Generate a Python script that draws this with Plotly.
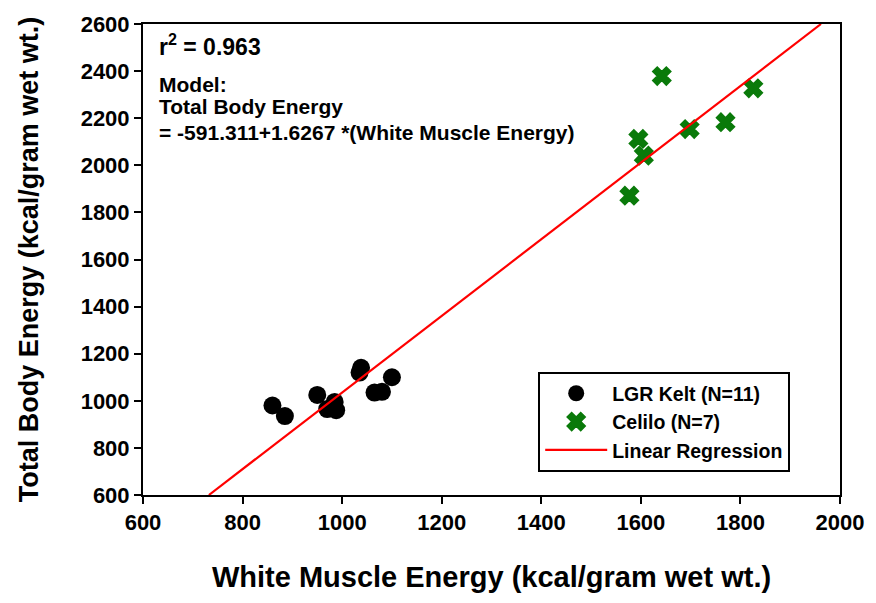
import plotly.graph_objects as go

# Data
kelt_x = [860, 885, 950, 970, 985, 988, 1035, 1038, 1065, 1080, 1100]
kelt_y = [980, 935, 1025, 965, 995, 960, 1120, 1140, 1035, 1038, 1100]
celilo_x = [1642, 1826, 1698, 1770, 1595, 1606, 1577]
celilo_y = [2379, 2327, 2154, 2183, 2112, 2041, 1871]
intercept = -591.311
slope = 1.6267
y_range = [600, 2600]
x_range = [600, 2000]
x_ticks = list(range(600, 2001, 200))
y_ticks = list(range(600, 2601, 200))

reg_x = [(y_range[0] - intercept) / slope, (y_range[1] - intercept) / slope]
reg_y = [intercept + slope * v for v in reg_x]

FONT = "Liberation Sans, Arial, sans-serif"

def bf(size):
    return dict(size=size, family=FONT, color="black", weight="bold")

fig = go.Figure()
fig.add_trace(go.Scatter(
    x=kelt_x, y=kelt_y, mode="markers", name="LGR Kelt (N=11)", legendrank=1,
    marker=dict(symbol="circle", size=18, color="black", line=dict(width=0))))
fig.add_trace(go.Scatter(
    x=celilo_x, y=celilo_y, mode="markers", name="Celilo (N=7)", legendrank=2,
    marker=dict(symbol="x", size=16, color="#0a7a0a", line=dict(width=1.5, color="#0a7a0a"))))
fig.add_trace(go.Scatter(
    x=reg_x, y=reg_y, mode="lines", name="Linear Regression", legendrank=3,
    line=dict(color="#ff0000", width=2.2)))

fig.update_layout(
    width=876, height=603,
    margin=dict(l=143, r=36, t=24, b=108),
    plot_bgcolor="white", paper_bgcolor="white",
    font=dict(family=FONT, color="black"),
    legend=dict(
        x=0.567, y=0.261, xanchor="left", yanchor="top",
        bgcolor="white", bordercolor="black", borderwidth=2,
        font=bf(19.5), itemwidth=62, tracegroupgap=0,
    ),
    xaxis=dict(
        range=x_range, tickvals=x_ticks, ticktext=[f"<b>{v}</b>" for v in x_ticks],
        ticks="outside", ticklen=7, tickwidth=2, tickcolor="black",
        showline=True, linewidth=2, linecolor="black", mirror=True,
        showgrid=False, zeroline=False,
        tickfont=bf(22),
        title=dict(text="White Muscle Energy (kcal/gram wet wt.)",
                   font=bf(29), standoff=32),
    ),
    yaxis=dict(
        range=y_range, tickvals=y_ticks, ticktext=[f"<b>{v}</b>" for v in y_ticks],
        ticks="outside", ticklen=7, tickwidth=2, tickcolor="black",
        showline=True, linewidth=2, linecolor="black", mirror=True,
        showgrid=False, zeroline=False,
        tickfont=bf(22),
        title=dict(text="Total Body Energy (kcal/gram wet wt.)",
                   font=bf(27), standoff=34),
    ),
)

fig.add_annotation(xref="paper", yref="paper", x=0.02, y=0.955, xanchor="left", yanchor="middle",
                   text="r<sup>2</sup> = 0.963", showarrow=False, font=bf(23))
lines_txt = ["Model:", "Total Body Energy", "= -591.311+1.6267 *(White Muscle Energy)"]
lines_y = [0.8726, 0.8238, 0.7707]
for t, yy in zip(lines_txt, lines_y):
    fig.add_annotation(xref="paper", yref="paper", x=0.02, y=yy, xanchor="left", yanchor="middle",
                       text=t, showarrow=False, align="left", font=bf(21))

fig.write_html("out.html")
